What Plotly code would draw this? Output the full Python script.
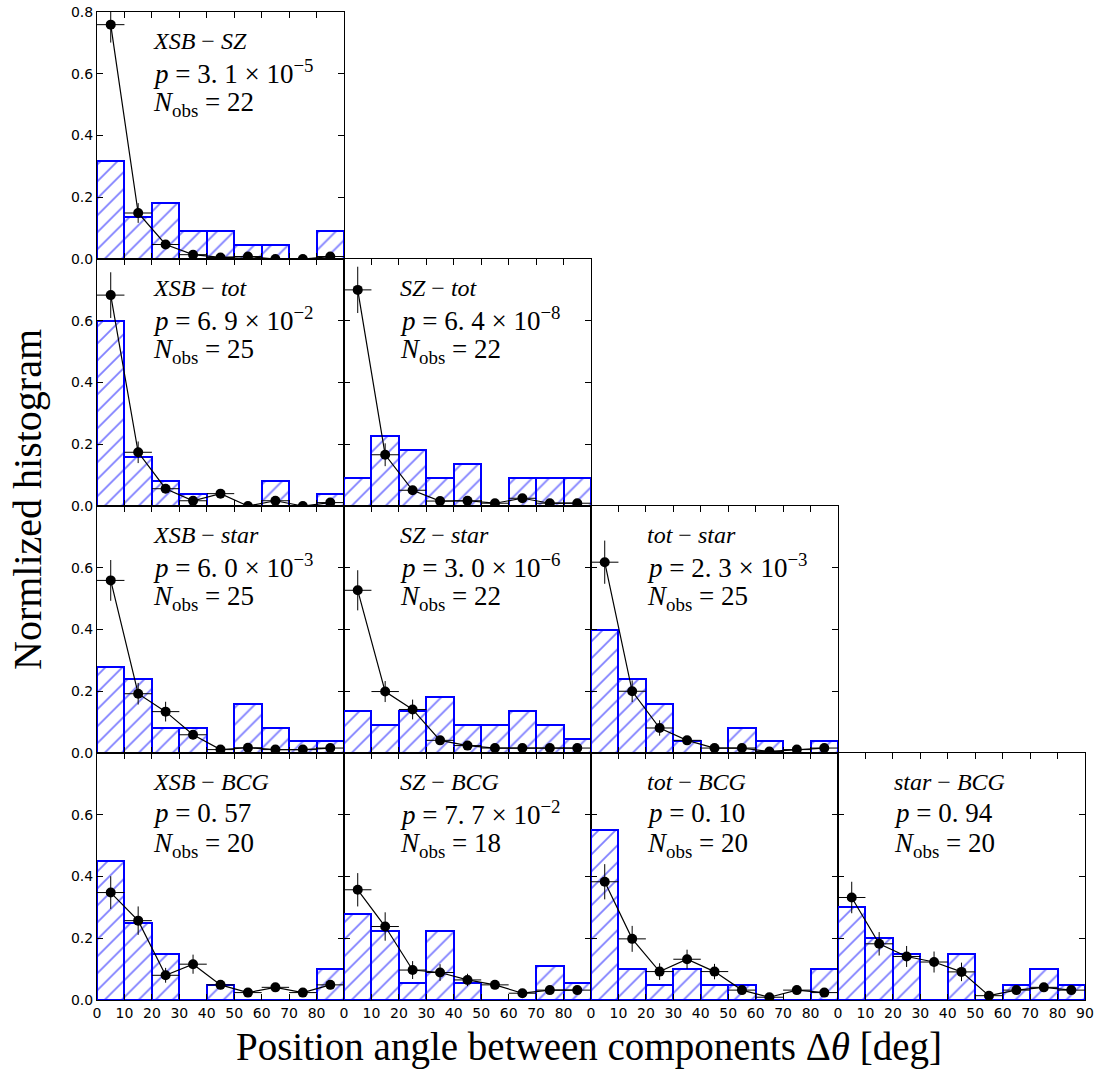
import plotly.graph_objects as go

W, H = 1101, 1075

# ---- data ----
bin_centers = [5, 15, 25, 35, 45, 55, 65, 75, 85]

titles = ["XSB − SZ", "XSB − tot", "SZ − tot", "XSB − star", "SZ − star",
          "tot − star", "XSB − BCG", "SZ − BCG", "tot − BCG", "star − BCG"]
p_texts = ["3. 1 × 10<sup>−5</sup>", "6. 9 × 10<sup>−2</sup>", "6. 4 × 10<sup>−8</sup>",
           "6. 0 × 10<sup>−3</sup>", "3. 0 × 10<sup>−6</sup>", "2. 3 × 10<sup>−3</sup>",
           "0. 57", "7. 7 × 10<sup>−2</sup>", "0. 10", "0. 94"]
n_obs = [22, 25, 22, 25, 22, 25, 20, 18, 20, 20]
panel_rows = [0, 1, 1, 2, 2, 2, 3, 3, 3, 3]
panel_cols = [0, 0, 1, 0, 1, 2, 0, 1, 2, 3]

hist_xsb_sz = [0.318, 0.136, 0.182, 0.091, 0.091, 0.045, 0.045, 0.0, 0.091]
hist_xsb_tot = [0.60, 0.16, 0.08, 0.04, 0.0, 0.0, 0.08, 0.0, 0.04]
hist_sz_tot = [0.091, 0.227, 0.182, 0.091, 0.136, 0.0, 0.091, 0.091, 0.091]
hist_xsb_star = [0.28, 0.24, 0.08, 0.08, 0.0, 0.16, 0.08, 0.04, 0.04]
hist_sz_star = [0.136, 0.091, 0.136, 0.182, 0.091, 0.091, 0.136, 0.091, 0.045]
hist_tot_star = [0.40, 0.24, 0.16, 0.04, 0.0, 0.08, 0.04, 0.0, 0.04]
hist_xsb_bcg = [0.45, 0.25, 0.15, 0.0, 0.05, 0.0, 0.0, 0.0, 0.10]
hist_sz_bcg = [0.278, 0.222, 0.056, 0.222, 0.056, 0.0, 0.0, 0.111, 0.056]
hist_tot_bcg = [0.55, 0.10, 0.05, 0.10, 0.05, 0.05, 0.0, 0.0, 0.10]
hist_star_bcg = [0.30, 0.20, 0.15, 0.0, 0.15, 0.0, 0.05, 0.10, 0.05]

model_xsb_sz = [0.759, 0.149, 0.047, 0.014, 0.005, 0.008, 0.0, 0.0, 0.008]
model_xsb_tot = [0.683, 0.174, 0.056, 0.017, 0.040, 0.0, 0.017, 0.0, 0.011]
model_sz_tot = [0.700, 0.166, 0.051, 0.016, 0.017, 0.009, 0.025, 0.009, 0.009]
model_xsb_star = [0.559, 0.192, 0.134, 0.059, 0.011, 0.017, 0.011, 0.011, 0.016]
model_sz_star = [0.527, 0.199, 0.141, 0.041, 0.024, 0.016, 0.016, 0.016, 0.016]
model_tot_star = [0.618, 0.200, 0.081, 0.041, 0.016, 0.016, 0.005, 0.011, 0.016]
model_xsb_bcg = [0.348, 0.257, 0.080, 0.116, 0.049, 0.024, 0.041, 0.024, 0.049]
model_sz_bcg = [0.357, 0.238, 0.097, 0.089, 0.065, 0.049, 0.022, 0.032, 0.032]
model_tot_bcg = [0.383, 0.198, 0.092, 0.132, 0.092, 0.032, 0.009, 0.032, 0.024]
model_star_bcg = [0.332, 0.182, 0.141, 0.123, 0.091, 0.014, 0.032, 0.041, 0.032]

err_xsb_sz = [0.058, 0.032, 0.012, 0.006, 0.004, 0.005, 0.002, 0.002, 0.005]
err_xsb_tot = [0.074, 0.035, 0.014, 0.007, 0.012, 0.002, 0.008, 0.002, 0.006]
err_sz_tot = [0.075, 0.037, 0.014, 0.007, 0.008, 0.005, 0.010, 0.005, 0.005]
err_xsb_star = [0.066, 0.035, 0.032, 0.014, 0.006, 0.007, 0.006, 0.006, 0.007]
err_sz_star = [0.065, 0.034, 0.032, 0.012, 0.009, 0.007, 0.007, 0.007, 0.007]
err_tot_star = [0.070, 0.035, 0.025, 0.012, 0.007, 0.007, 0.004, 0.006, 0.007]
err_xsb_bcg = [0.053, 0.046, 0.024, 0.031, 0.014, 0.010, 0.012, 0.010, 0.014]
err_sz_bcg = [0.054, 0.046, 0.029, 0.027, 0.020, 0.013, 0.009, 0.011, 0.011]
err_tot_bcg = [0.057, 0.042, 0.027, 0.031, 0.025, 0.011, 0.005, 0.011, 0.010]
err_star_bcg = [0.051, 0.038, 0.034, 0.034, 0.030, 0.008, 0.011, 0.013, 0.011]

hists = [hist_xsb_sz, hist_xsb_tot, hist_sz_tot, hist_xsb_star, hist_sz_star,
         hist_tot_star, hist_xsb_bcg, hist_sz_bcg, hist_tot_bcg, hist_star_bcg]
models = [model_xsb_sz, model_xsb_tot, model_sz_tot, model_xsb_star, model_sz_star,
          model_tot_star, model_xsb_bcg, model_sz_bcg, model_tot_bcg, model_star_bcg]
errs = [err_xsb_sz, err_xsb_tot, err_sz_tot, err_xsb_star, err_sz_star,
        err_tot_star, err_xsb_bcg, err_sz_bcg, err_tot_bcg, err_star_bcg]

x_tickvals = [0, 10, 20, 30, 40, 50, 60, 70, 80, 90]
y_tickvals = [0.0, 0.2, 0.4, 0.6, 0.8]

# ---- layout geometry (pixels) ----
col_edges = [97, 344, 591, 838, 1085]
row_edges = [12, 259, 506, 753, 1000]

fig = go.Figure()
SERIF = "'Liberation Serif', 'Times New Roman', Times, serif"
TICKFONT = dict(family="'DejaVu Sans', sans-serif", size=14, color="black")

for i in range(len(titles)):
    r, c = panel_rows[i], panel_cols[i]
    ax = "" if i == 0 else str(i + 1)
    xa, ya = "x" + ax, "y" + ax
    x0, x1 = col_edges[c] / W, col_edges[c + 1] / W
    y0, y1 = 1 - row_edges[r + 1] / H, 1 - row_edges[r] / H

    fig.add_trace(go.Bar(
        x=bin_centers, y=hists[i], width=10, xaxis=xa, yaxis=ya,
        marker=dict(color="white", line=dict(color="#0000ff", width=2),
                    pattern=dict(shape="/", fgcolor="#0000ff", bgcolor="white",
                                 size=12, solidity=0.15)),
        showlegend=False, hoverinfo="skip"))
    fig.add_trace(go.Scatter(
        x=bin_centers, y=models[i], xaxis=xa, yaxis=ya, mode="lines+markers",
        line=dict(color="black", width=1.2),
        marker=dict(color="black", size=10),
        error_y=dict(type="data", array=errs[i], color="black", thickness=1, width=0),
        error_x=dict(type="constant", value=5, color="black", thickness=1, width=0),
        showlegend=False, hoverinfo="skip"))

    bottom = (r == 3)
    left = (c == 0)
    if bottom:
        xt = [str(v) for v in x_tickvals]
        if c != 3:
            xt[-1] = ""
    else:
        xt = [""] * len(x_tickvals)
    if left:
        yt = ["%.1f" % v for v in y_tickvals]
        if r != 0:
            yt[-1] = ""
    else:
        yt = [""] * len(y_tickvals)

    xkey = "xaxis" if i == 0 else "xaxis%d" % (i + 1)
    ykey = "yaxis" if i == 0 else "yaxis%d" % (i + 1)
    fig.layout[xkey] = dict(domain=[x0, x1], anchor=ya, range=[0, 90],
                            tickvals=x_tickvals, ticktext=xt, ticks="inside",
                            ticklen=6, tickcolor="black", mirror="allticks",
                            showline=True, linecolor="black", linewidth=1,
                            showgrid=False, zeroline=False, tickfont=TICKFONT,
                            automargin=False, fixedrange=True)
    fig.layout[ykey] = dict(domain=[y0, y1], anchor=xa, range=[0, 0.8],
                            tickvals=y_tickvals, ticktext=yt, ticks="inside",
                            ticklen=6, tickcolor="black", mirror="allticks",
                            showline=True, linecolor="black", linewidth=1,
                            showgrid=False, zeroline=False, tickfont=TICKFONT,
                            automargin=False, fixedrange=True)

    tx = (col_edges[c] + 54) / W
    top = row_edges[r]
    t1 = titles[i].split(" − ")
    fig.add_annotation(x=tx, y=1 - (top + 29) / H, xref="paper", yref="paper",
                       xanchor="left", yanchor="middle", showarrow=False,
                       text="<i>%s</i> − <i>%s</i>" % (t1[0], t1[1]),
                       font=dict(family=SERIF, size=24, color="black"))
    fig.add_annotation(x=tx, y=1 - (top + 60) / H, xref="paper", yref="paper",
                       xanchor="left", yanchor="middle", showarrow=False,
                       text="<i>p</i> = " + p_texts[i],
                       font=dict(family=SERIF, size=27, color="black"))
    fig.add_annotation(x=tx, y=1 - (top + 92) / H, xref="paper", yref="paper",
                       xanchor="left", yanchor="middle", showarrow=False,
                       text="<i>N</i><sub>obs</sub> = %d" % n_obs[i],
                       font=dict(family=SERIF, size=27, color="black"))

fig.add_annotation(x=589 / W, y=1 - 1047 / H, xref="paper", yref="paper",
                   xanchor="center", yanchor="middle", showarrow=False,
                   text="Position angle between components Δ<i>θ</i> [deg]",
                   font=dict(family=SERIF, size=39, color="black"))
fig.add_annotation(x=28 / W, y=1 - 500 / H, xref="paper", yref="paper",
                   xanchor="center", yanchor="middle", showarrow=False, textangle=-90,
                   text="Normlized histogram",
                   font=dict(family=SERIF, size=40, color="black"))

fig.update_layout(width=W, height=H, margin=dict(l=0, r=0, t=0, b=0),
                  paper_bgcolor="white", plot_bgcolor="white",
                  barmode="overlay", bargap=0)

fig.write_html("out.html", config={"displayModeBar": False},
               post_script="document.body.style.margin='0';document.body.style.overflow='hidden';")
